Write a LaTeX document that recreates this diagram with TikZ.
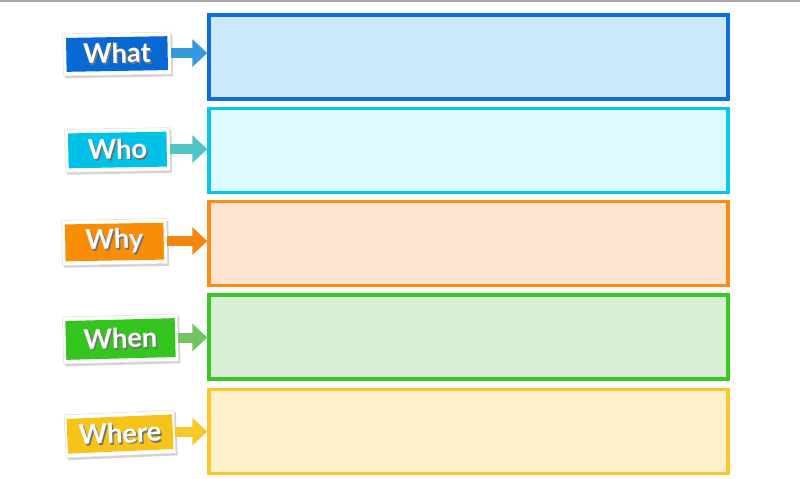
\documentclass[tikz,border=0pt]{standalone}
\usepackage{fontspec}
\setmainfont{Lato}
\definecolor{whatlab}{RGB}{8,104,212}
\definecolor{whatbrd}{RGB}{12,111,220}
\definecolor{whatbg}{RGB}{204,232,253}
\definecolor{whatarr}{RGB}{52,154,220}
\definecolor{wholab}{RGB}{0,194,230}
\definecolor{whobrd}{RGB}{5,200,234}
\definecolor{whobg}{RGB}{220,250,255}
\definecolor{whoarr}{RGB}{80,196,196}
\definecolor{whylab}{RGB}{249,142,6}
\definecolor{whybrd}{RGB}{251,142,18}
\definecolor{whybg}{RGB}{253,228,207}
\definecolor{whyarr}{RGB}{245,134,11}
\definecolor{whenlab}{RGB}{52,198,31}
\definecolor{whenbrd}{RGB}{57,200,37}
\definecolor{whenbg}{RGB}{216,238,210}
\definecolor{whenarr}{RGB}{114,196,98}
\definecolor{wherelab}{RGB}{246,195,26}
\definecolor{wherebrd}{RGB}{253,198,43}
\definecolor{wherebg}{RGB}{255,240,204}
\definecolor{wherearr}{RGB}{248,199,42}
\usetikzlibrary{arrows.meta, shadows}
\tikzset{
  tagbox/.style={fill=white, draw=gray!25, line width=0.3pt, text=white,
    font=\fontsize{15.5}{15.5}\selectfont\bfseries, inner sep=0pt, outer sep=0pt,
    drop shadow={shadow xshift=1pt, shadow yshift=-1.3pt, opacity=0.35},
    path picture={\fill[#1] ([shift={(2.3pt,2.3pt)}]path picture bounding box.south west)
      rectangle ([shift={(-2.3pt,-2.3pt)}]path picture bounding box.north east);}},
  fieldbox/.style={draw=#1, line width=2pt, minimum width=10.38cm,
    minimum height=1.68cm, inner sep=0pt},
  tagarr/.style={draw=#1, line width=0.2cm, -{Triangle[length=0.3cm, width=0.54cm]}},
}
\newcommand{\tagtext}[1]{\rlap{\hspace{0.8pt}\raisebox{-1pt}{\textcolor{black!55}{#1}}}#1}

\begin{document}
\begin{tikzpicture}[x=0.02cm, y=-0.02cm]
  \useasboundingbox (0,0) rectangle (800,478);
  \draw[gray!70, line width=1.2pt] (0,1) -- (800,1);

  % What
  \node[fieldbox=whatbrd, fill=whatbg] (whatbox) at (468.5,57) {};
  \node[tagbox=whatlab, minimum width=2.16cm, minimum height=0.84cm, rotate=1] (what) at (117,54) {\tagtext{What}};
  \draw[tagarr=whatarr] (what.east) -- (what.east -| whatbox.west);

  % Who
  \node[fieldbox=whobrd, fill=whobg] (whobox) at (468.5,150.5) {};
  \node[tagbox=wholab, minimum width=2.1cm, minimum height=0.86cm, rotate=1] (who) at (117.5,150) {\tagtext{Who}};
  \draw[tagarr=whoarr] (who.east) -- (who.east -| whobox.west);

  % Why
  \node[fieldbox=whybrd, fill=whybg] (whybox) at (468.5,243.5) {};
  \node[tagbox=whylab, minimum width=2.1cm, minimum height=0.9cm, rotate=1] (why) at (114.5,242) {\tagtext{Why}};
  \draw[tagarr=whyarr] (why.east) -- (why.east -| whybox.west);

  % When
  \node[fieldbox=whenbrd, fill=whenbg] (whenbox) at (468.5,337) {};
  \node[tagbox=whenlab, minimum width=2.3cm, minimum height=0.94cm, rotate=1.5] (when) at (120.5,339) {\tagtext{When}};
  \draw[tagarr=whenarr] (when.east) -- (when.east -| whenbox.west);

  % Where
  \node[fieldbox=wherebrd, fill=wherebg] (wherebox) at (468.5,431.5) {};
  \node[tagbox=wherelab, minimum width=2.2cm, minimum height=0.86cm, rotate=2.5] (where) at (120,434) {\tagtext{Where}};
  \draw[tagarr=wherearr] (where.east) -- (where.east -| wherebox.west);
\end{tikzpicture}
\end{document}
